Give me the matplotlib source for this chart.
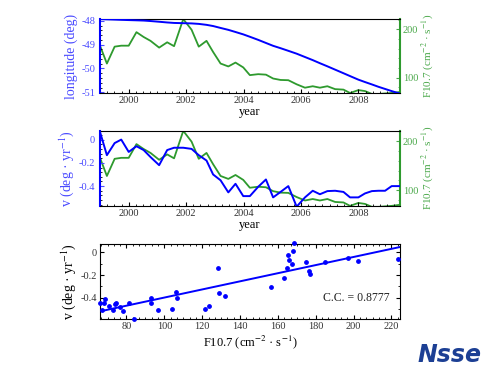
import numpy as np
import matplotlib
matplotlib.use("Agg")
import matplotlib.pyplot as plt
from matplotlib.ticker import AutoMinorLocator, MultipleLocator

plt.rcParams['font.family'] = ['Liberation Serif', 'DejaVu Serif']
plt.rcParams['mathtext.fontset'] = 'stix'
plt.rcParams['axes.unicode_minus'] = False

# time series (quarterly samples)
years = [1999.0, 1999.24, 1999.51, 1999.74, 2000.0, 2000.27, 2000.52, 2000.76,
         2001.06, 2001.34, 2001.58, 2001.9, 2002.19, 2002.44, 2002.71, 2002.94,
         2003.2, 2003.47, 2003.72, 2003.99, 2004.22, 2004.51, 2004.78, 2005.03,
         2005.29, 2005.56, 2005.85, 2006.14, 2006.41, 2006.66, 2006.92, 2007.19,
         2007.48, 2007.71, 2008.0, 2008.23, 2008.47, 2008.7, 2008.93, 2009.16,
         2009.43]

longitude = [-47.93, -47.94, -47.95, -47.96, -47.97, -47.98, -47.99, -48.01,
             -48.04, -48.07, -48.09, -48.1, -48.11, -48.13, -48.17, -48.22,
             -48.3, -48.38, -48.47, -48.57, -48.67, -48.8, -48.93, -49.05,
             -49.15, -49.26, -49.38, -49.52, -49.65, -49.78, -49.91, -50.05,
             -50.2, -50.32, -50.47, -50.57, -50.67, -50.77, -50.86, -50.95,
             -51.05]

f107 = [166, 129, 164, 166, 166, 194, 184, 176, 162, 173, 165, 221, 199, 164,
        176, 153, 129, 123, 131, 121, 105, 107, 106, 98, 95, 94.5, 86, 79, 82,
        79, 82, 76, 75, 68, 74, 72, 66, 66, 67, 68, 70]

velocity = [0.066, -0.134, -0.03, 0.0, -0.106, -0.057, -0.09, -0.15, -0.22,
            -0.09, -0.07, -0.07, -0.08, -0.134, -0.18, -0.30, -0.35, -0.454,
            -0.38, -0.486, -0.486, -0.406, -0.343, -0.497, -0.45, -0.40, -0.577,
            -0.497, -0.44, -0.47, -0.443, -0.44, -0.45, -0.497, -0.497, -0.463,
            -0.443, -0.44, -0.44, -0.40, -0.40]

# scatter: F10.7 vs drift velocity
sc_f107 = [65.9, 66.8, 68.2, 68.9, 70.8, 72.9, 73.8, 74.2, 76.8, 77.9, 81.4,
           83.9, 92.7, 92.8, 96.7, 104.3, 105.9, 106.7, 121.4, 123.5, 128.4,
           128.9, 132.3, 156.2, 163.1, 164.8, 165.4, 165.6, 167.7, 168.0, 168.4,
           174.7, 176.5, 177.2, 184.8, 197.1, 202.4, 223.5]
sc_v = [-0.45, -0.51, -0.45, -0.41, -0.47, -0.51, -0.455, -0.444, -0.48,
        -0.517, -0.444, -0.588, -0.405, -0.444, -0.508, -0.502, -0.35, -0.405,
        -0.5, -0.47, -0.141, -0.361, -0.382, -0.303, -0.229, -0.141, -0.024,
        -0.068, -0.103, 0.011, 0.079, -0.088, -0.162, -0.191, -0.088, -0.053,
        -0.074, -0.062]

blue = '#0000ff'
lblue = '#4a4aff'
green = '#2e9a2e'
lgreen = '#4aa84a'

fig = plt.figure(figsize=(5, 3.75), dpi=100)


def style_time_axes(ax, ax2, ylabel):
    ax.set_xlim(1999, 2009.45)
    ax.xaxis.set_major_locator(MultipleLocator(2))
    ax.xaxis.set_minor_locator(AutoMinorLocator(8))
    ax.yaxis.set_minor_locator(AutoMinorLocator(5))
    ax.tick_params(axis='both', which='both', direction='in', labelsize=7.5,
                   top=False, right=False)
    ax.tick_params(axis='y', colors=lblue, labelcolor=lblue)
    ax.tick_params(axis='x', colors='black', labelcolor='#333333', pad=2)
    ax.tick_params(which='major', length=3)
    ax.tick_params(which='minor', length=1.5)
    ax.spines['left'].set_color(blue)
    ax.spines['left'].set_linewidth(1.5)
    ax.spines['right'].set_visible(False)
    ax.set_xlabel('year', fontsize=9, labelpad=1)
    ax.set_ylabel(ylabel, fontsize=10, color=lblue, labelpad=2)

    ax2.set_ylim(68, 221)
    ax2.yaxis.set_major_locator(MultipleLocator(100))
    ax2.yaxis.set_minor_locator(AutoMinorLocator(5))
    ax2.tick_params(axis='y', which='both', direction='in', colors=lgreen,
                    labelcolor=lgreen, labelsize=7.5, pad=2)
    ax2.tick_params(which='major', length=3)
    ax2.tick_params(which='minor', length=1.5)
    for s in ['left', 'top', 'bottom']:
        ax2.spines[s].set_visible(False)
    ax2.spines['right'].set_color(green)
    ax2.spines['right'].set_linewidth(1.5)
    ax2.set_ylabel('F10.7 (cm$^{-2}$ · s$^{-1}$)', fontsize=8, color=lgreen,
                   labelpad=1)


# top panel: longitude and F10.7
ax1 = fig.add_axes([0.2, 0.752, 0.6, 0.197])
ax1b = ax1.twinx()
ax1b.plot(years, f107, color=green, lw=1.3)
ax1.plot(years, longitude, color=blue, lw=1.4, zorder=3)
ax1.set_zorder(ax1b.get_zorder() + 1)
ax1.patch.set_visible(False)
ax1.set_ylim(-51.03, -47.93)
ax1.yaxis.set_major_locator(MultipleLocator(1))
style_time_axes(ax1, ax1b, 'longitude (deg)')

# middle panel: drift velocity and F10.7
ax2 = fig.add_axes([0.2, 0.451, 0.6, 0.2])
ax2b = ax2.twinx()
ax2b.plot(years, f107, color=green, lw=1.3)
ax2.plot(years, velocity, color=blue, lw=1.4, zorder=3)
ax2.set_zorder(ax2b.get_zorder() + 1)
ax2.patch.set_visible(False)
ax2.set_ylim(-0.57, 0.075)
ax2.yaxis.set_major_locator(MultipleLocator(0.2))
style_time_axes(ax2, ax2b, 'v (deg · yr$^{-1}$)')
ax2.yaxis.set_major_formatter(plt.FuncFormatter(lambda v, p: f'{v:g}'))

# bottom panel: scatter with linear fit
ax3 = fig.add_axes([0.2, 0.149, 0.6, 0.2])
ax3.scatter(sc_f107, sc_v, s=6, color=blue, zorder=3, clip_on=False)
coef = np.polyfit(sc_f107, sc_v, 1)
fx = np.array([66, 224.5])
ax3.plot(fx, np.polyval(coef, fx), color=blue, lw=1.4)
ax3.set_xlim(66, 224.5)
ax3.set_ylim(-0.59, 0.073)
ax3.xaxis.set_major_locator(MultipleLocator(20))
ax3.xaxis.set_minor_locator(AutoMinorLocator(6))
ax3.yaxis.set_major_locator(MultipleLocator(0.2))
ax3.yaxis.set_minor_locator(AutoMinorLocator(2))
ax3.yaxis.set_major_formatter(plt.FuncFormatter(lambda v, p: f'{v:g}'))
ax3.tick_params(which='both', direction='in', top=True, right=True,
                labelsize=7.5, labelcolor='#333333', pad=2)
ax3.tick_params(which='major', length=3)
ax3.tick_params(which='minor', length=1.5)
ax3.set_xlabel('F10.7 (cm$^{-2}$ · s$^{-1}$)', fontsize=9, labelpad=2)
ax3.set_ylabel('v (deg · yr$^{-1}$)', fontsize=10, labelpad=2)
ax3.text(0.967, 0.28, 'C.C. = 0.8777', transform=ax3.transAxes, ha='right',
         va='center', fontsize=8.5, color='#222222')

# logo
fig.text(0.9, 0.053, 'Nsse', fontsize=17, fontstyle='italic', fontweight='bold',
         family='DejaVu Sans', color='#1c3f94', ha='center', va='center')

fig.savefig('out.png', dpi=100)
